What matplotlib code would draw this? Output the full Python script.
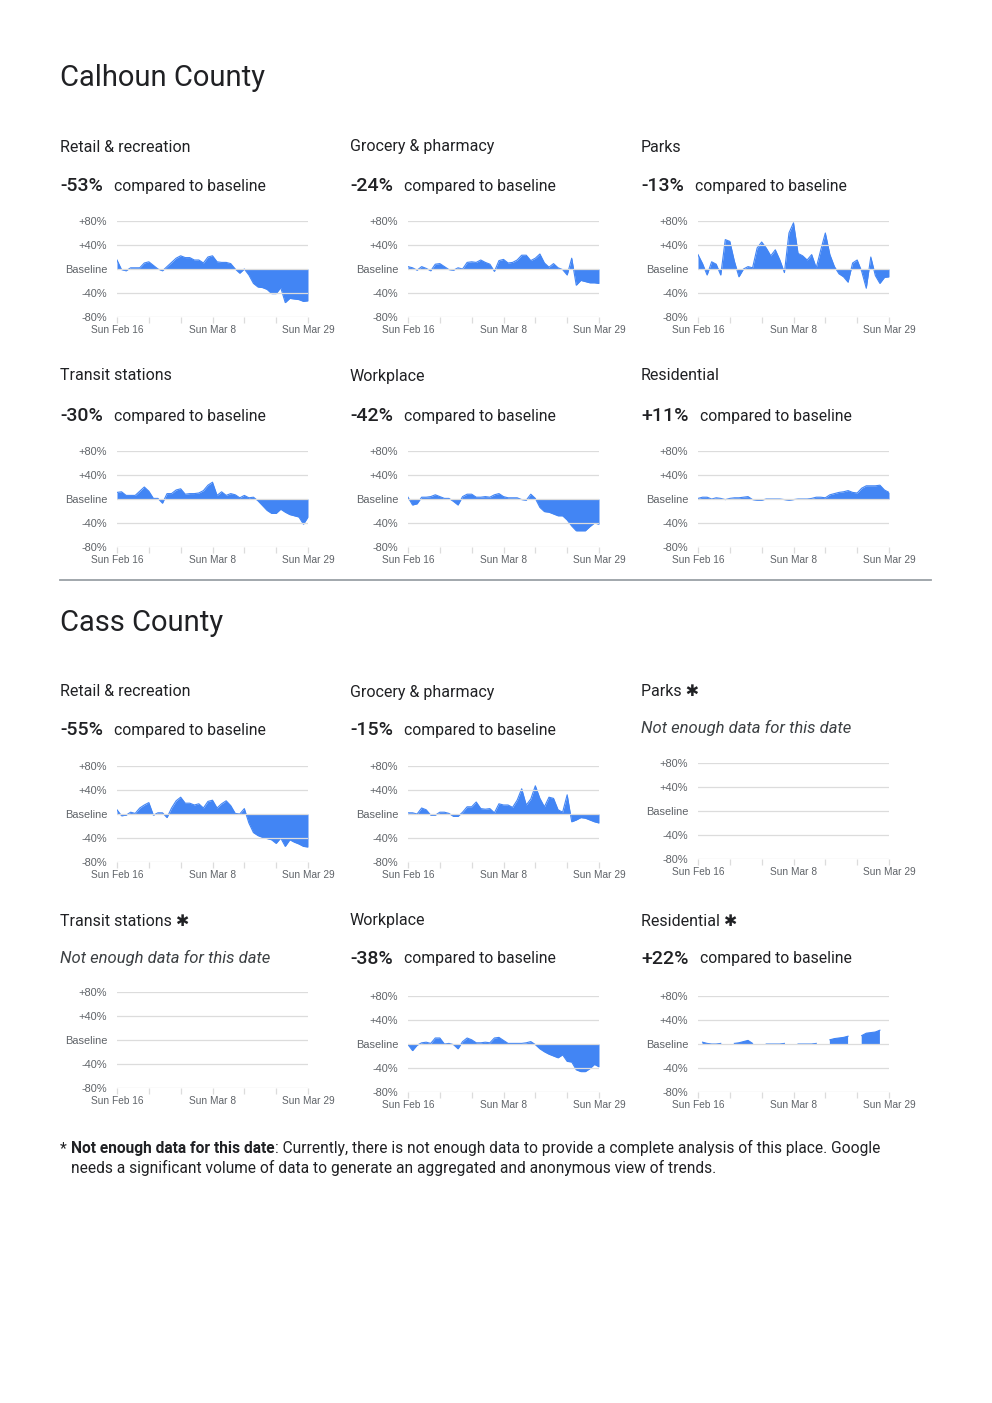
import numpy as np
import matplotlib.pyplot as plt
from matplotlib.lines import Line2D
from matplotlib.text import Annotation

W, H = 992, 1403
BLUE = '#4285F4'
GRID = '#dcdcdc'
TXT = '#202124'
TICK = '#5f6368'

# one value per day, Sun Feb 16 .. Sun Mar 29 (43 days)
days = np.arange(43)
week_ticks = [0, 7, 14, 21, 28, 35, 42]
date_labels = ['Sun Feb 16', '', '', 'Sun Mar 8', '', '', 'Sun Mar 29']
y_ticks = [80, 40, 0, -40, -80]
y_labels = ['+80%', '+40%', 'Baseline', '-40%', '-80%']

calhoun_retail = [15, -1, -3, 2, 2, 2, 10, 12, 6, 0, -3, 4, 11, 18, 22, 19, 19, 15, 15, 10, 20, 22,
                  12, 11, 11, 9, 0, -7, 0, -10, -24, -30, -31, -34, -41, -41, -31, -56, -49, -50, -51, -54, -53]
calhoun_grocery = [4, 2, -2, 4, 1, -3, 8, 9, 4, -1, -2, 2, 0, 11, 12, 11, 15, 11, 8, -4, 14, 16,
                   10, 11, 15, 23, 23, 14, 18, 25, 10, 3, 9, 2, -1, -10, 18, -27, -19, -21, -23, -23, -24]
calhoun_parks = [24, 9, -10, 12, 8, -10, 49, 46, 13, -13, 0, 4, 2, 35, 45, 35, 22, 32, 15, -6, 60, 77,
                 26, 22, 15, 24, 2, 32, 60, 24, 4, -8, -13, -22, 10, 15, -4, -32, 20, -11, -24, -14, -13]
calhoun_transit = [11, 12, 6, 6, 6, 13, 20, 13, 1, 1, -7, 9, 9, 15, 17, 8, 9, 9, 10, 14, 23, 28,
                   6, 12, 6, 9, 7, 2, 6, 2, 3, -3, -11, -19, -24, -24, -17, -22, -26, -28, -30, -42, -30]
calhoun_workplace = [3, -10, -8, 3, 3, 4, 7, 4, 1, 1, -4, -10, 4, 8, 8, 3, 3, 4, 3, 7, 9, 4,
                     2, 2, 2, -1, -2, 8, 1, -14, -21, -22, -25, -28, -28, -35, -45, -53, -53, -53, -46, -40, -42]
calhoun_residential = [1, 3, 3, 0, 2, 1, -1, 1, 2, 2, 3, 4, -1, -2, -2, 0, 0, 0, 0, -1, -2, -1,
                       0, 0, 0, 1, 3, 3, 2, 7, 9, 11, 12, 14, 11, 10, 18, 22, 22, 22, 23, 15, 11]

cass_retail = [7, -3, -2, 3, 1, 10, 15, 19, -2, 2, 2, -6, 10, 22, 28, 18, 18, 15, 17, 10, 21, 23,
               10, 17, 22, 14, 1, 0, 9, -15, -31, -36, -39, -41, -43, -49, -40, -54, -43, -47, -50, -54, -55]
cass_grocery = [2, 2, 0, 10, 7, -2, -2, 3, 3, 1, -4, -4, 3, 12, 12, 20, 9, 8, 9, 2, 17, 15,
                15, 11, 23, 42, 15, 25, 47, 26, 12, 28, 26, 7, 3, 32, -13, -10, -6, -7, -10, -13, -15]
cass_workplace = [-1, -11, -2, 2, 3, 1, 10, 10, 0, 1, -1, -8, 4, 10, 7, 2, 2, 3, 2, 10, 11, 6,
                  1, 1, 1, 1, 2, 4, -1, -8, -13, -17, -20, -23, -18, -29, -30, -43, -46, -46, -41, -34, -38]
nan = np.nan
cass_residential = [nan, 3, 1, 0, 0, 1, nan, nan, 1, 2, 4, 6, 1, nan, nan, 0, 0, 0, 0, 1, nan, nan,
                    0, 0, 0, 0, 1, nan, nan, 7, 9, 10, 11, 13, nan, nan, 14, 18, 19, 20, 23, nan, nan]


def fx(x):
    return x / W


def fy(y):
    return 1 - y / H


fig = plt.figure(figsize=(W / 100, H / 100), dpi=100)
HEAD = ['Roboto', 'DejaVu Sans']


def chart(left, top, values=None):
    ax = fig.add_axes([fx(left), fy(top + 96), 191 / W, 96 / H])
    ax.set_xlim(0, 42)
    ax.set_ylim(-80, 80)
    if values is not None:
        v = np.array(values, dtype=float)
        ax.fill_between(days, v, 0, color=BLUE, lw=0, zorder=2)
        ax.plot(days, v, color=BLUE, lw=0.8, zorder=2)
    for t in y_ticks:
        ax.axhline(t, color=GRID, lw=0.9, zorder=3)
    for s in ax.spines.values():
        s.set_visible(False)
    ax.set_yticks(y_ticks)
    ax.set_yticklabels(y_labels, family='Liberation Sans', fontsize=7.9, color=TICK)
    ax.tick_params(axis='y', length=0, pad=7)
    ax.set_xticks(week_ticks)
    ax.set_xticklabels(date_labels, family='Liberation Sans', fontsize=7.3, color=TICK)
    ax.tick_params(axis='x', length=4, width=0.9, color=GRID, pad=1.5)
    return ax


def header(x, y, cat, star=False):
    label = cat + (' \u2731' if star else '')
    fig.text(fx(x), fy(y), label, family=HEAD, fontsize=11.5, color=TXT, va='center')


def value(x, y, pct):
    t = fig.text(fx(x), fy(y), pct, family=HEAD, fontsize=14, weight='medium', color=TXT, va='center')
    fig.add_artist(Annotation('compared to baseline', xy=(1, 0.5), xycoords=t, xytext=(8.2, 0),
                              textcoords='offset points', family=HEAD, fontsize=11.3, color=TXT,
                              va='center'))


def no_data(x, y):
    fig.text(fx(x), fy(y), 'Not enough data for this date', family=HEAD, fontsize=12,
             style='italic', color='#3c4043', va='center')


cols_txt = [60, 350, 641]
cols_ax = [117, 408, 698]

# Calhoun County
fig.text(fx(60), fy(78), 'Calhoun County', family=HEAD, fontsize=21, color=TXT, va='center')
row1 = [('Retail & recreation', '-53%', calhoun_retail),
        ('Grocery & pharmacy', '-24%', calhoun_grocery),
        ('Parks', '-13%', calhoun_parks)]
row2 = [('Transit stations', '-30%', calhoun_transit),
        ('Workplace', '-42%', calhoun_workplace),
        ('Residential', '+11%', calhoun_residential)]
for i, (cat, pct, vals) in enumerate(row1):
    header(cols_txt[i], 147, cat)
    value(cols_txt[i], 186, pct)
    chart(cols_ax[i], 221, vals)
for i, (cat, pct, vals) in enumerate(row2):
    header(cols_txt[i], 376, cat)
    value(cols_txt[i], 416, pct)
    chart(cols_ax[i], 451, vals)

fig.add_artist(Line2D([fx(60), fx(931)], [fy(580), fy(580)], color='#9aa0a6', lw=1.3))

# Cass County
fig.text(fx(60), fy(623), 'Cass County', family=HEAD, fontsize=21, color=TXT, va='center')
header(60, 692, 'Retail & recreation')
value(60, 730, '-55%')
chart(117, 766, cass_retail)
header(350, 692, 'Grocery & pharmacy')
value(350, 730, '-15%')
chart(408, 766, cass_grocery)
header(641, 692, 'Parks', star=True)
no_data(641, 728)
chart(698, 763)

header(60, 921, 'Transit stations', star=True)
no_data(60, 958)
chart(117, 992)
header(350, 921, 'Workplace')
value(350, 959, '-38%')
chart(408, 996, cass_workplace)
header(641, 921, 'Residential', star=True)
value(641, 959, '+22%')
chart(698, 996, cass_residential)

# footnote
fig.text(fx(60), fy(1149), '*', family=HEAD, fontsize=11.2, color=TXT, va='center')
b = fig.text(fx(71), fy(1149), 'Not enough data for this date', family=HEAD, fontsize=11.2,
             weight='bold', color=TXT, va='center')
fig.add_artist(Annotation(': Currently, there is not enough data to provide a complete analysis of this place. Google',
                          xy=(1, 0), xycoords=b, family=HEAD, fontsize=11.2, color=TXT, va='bottom'))
fig.text(fx(71), fy(1168), 'needs a significant volume of data to generate an aggregated and anonymous view of trends.',
         family=HEAD, fontsize=11.2, color=TXT, va='center')

fig.savefig('out.png', dpi=100)
